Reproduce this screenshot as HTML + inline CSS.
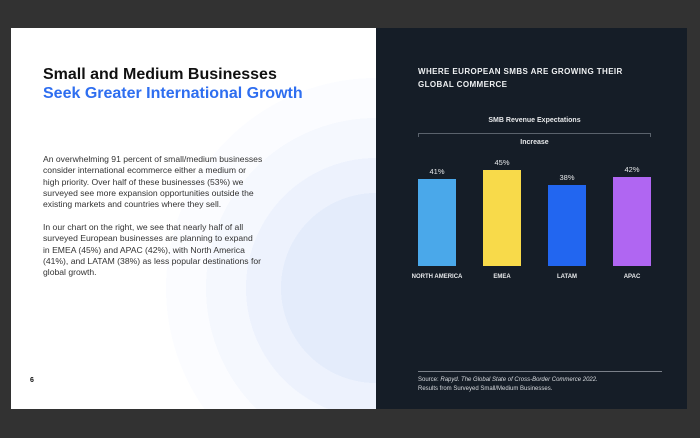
<!DOCTYPE html>
<html><head><meta charset="utf-8"><style>
*{margin:0;padding:0;box-sizing:border-box}
html,body{width:700px;height:438px;overflow:hidden}
body{background:#323232;position:relative;font-family:"Liberation Sans",sans-serif}
.page{position:absolute;left:11px;top:28px;width:365px;height:381px;overflow:hidden;
background:radial-gradient(circle at 365px 260px,#e4ecfb 0,#e4ecfb 95px,#edf2fd 95px,#edf2fd 130px,#f5f8fe 130px,#f5f8fe 170px,#fbfcff 170px,#fbfcff 210px,#fff 210px)}
.dark{position:absolute;left:376px;top:28px;width:311px;height:381px;background:#151d27}
.t{position:absolute;white-space:nowrap}
.bar{position:absolute;width:38px}
.pct{position:absolute;width:38px;text-align:center;font-size:7.5px;color:#e6e8ea}
.lab{position:absolute;width:80px;text-align:center;font-size:6px;font-weight:bold;color:#e6e8ea;top:274px}
</style></head><body>
<div class="page">
 <div class="t" style="left:32px;top:38px;font-size:16px;font-weight:bold;color:#111">Small and Medium Businesses</div>
 <div class="t" style="left:32px;top:57px;font-size:16px;font-weight:bold;color:#2e6ef0">Seek Greater International Growth</div>
 <div class="t" style="left:32px;top:126px;font-size:8.6px;line-height:11.3px;color:#333">An overwhelming 91 percent of small/medium businesses<br>consider international ecommerce either a medium or<br>high priority. Over half of these businesses (53%) we<br>surveyed see more expansion opportunities outside the<br>existing markets and countries where they sell.</div>
 <div class="t" style="left:32px;top:194px;font-size:8.6px;line-height:11.3px;color:#333">In our chart on the right, we see that nearly half of all<br>surveyed European businesses are planning to expand<br>in EMEA (45%) and APAC (42%), with North America<br>(41%), and LATAM (38%) as less popular destinations for<br>global growth.</div>
 <div class="t" style="left:19px;top:349px;font-size:7px;font-weight:bold;color:#111">6</div>
</div>
<div class="dark"></div>
<div class="t" style="left:418px;top:65px;font-size:8px;font-weight:bold;color:#eef0f2;line-height:13px;letter-spacing:0.4px">WHERE EUROPEAN SMBS ARE GROWING THEIR<br>GLOBAL COMMERCE</div>
<div class="t" style="left:418px;top:117px;width:233px;text-align:center;font-size:7px;font-weight:bold;color:#e6e8ea">SMB Revenue Expectations</div>
<div style="position:absolute;left:418px;top:133px;width:233px;height:4px;border:1px solid #5a626c;border-bottom:none"></div>
<div class="t" style="left:418px;top:139px;width:233px;text-align:center;font-size:7px;font-weight:bold;color:#e6e8ea">Increase</div>
<div class="bar" style="left:418px;top:179px;height:87px;background:#4aa8ea"></div>
<div class="bar" style="left:483px;top:170px;height:96px;background:#f8da4a"></div>
<div class="bar" style="left:548px;top:185px;height:81px;background:#2266f0"></div>
<div class="bar" style="left:613px;top:177px;height:89px;background:#b066f2"></div>
<div class="pct" style="left:418px;top:167px">41%</div>
<div class="pct" style="left:483px;top:158px">45%</div>
<div class="pct" style="left:548px;top:173px">38%</div>
<div class="pct" style="left:613px;top:165px">42%</div>
<div class="lab" style="left:397px">NORTH AMERICA</div>
<div class="lab" style="left:462px">EMEA</div>
<div class="lab" style="left:527px">LATAM</div>
<div class="lab" style="left:592px">APAC</div>
<div style="position:absolute;left:418px;top:371px;width:244px;height:1px;background:#7a8089"></div>
<div class="t" style="left:418px;top:376px;font-size:6px;line-height:9px;color:#d8dbdf">Source: <i>Rapyd. The Global State of Cross-Border Commerce 2022.</i><br>Results from Surveyed Small/Medium Businesses.</div>
</body></html>
